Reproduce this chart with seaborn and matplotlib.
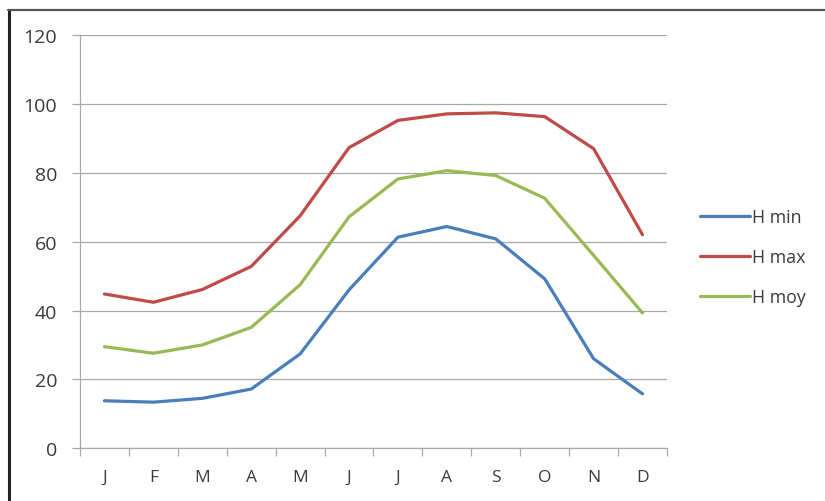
import numpy as np
import pandas as pd
import matplotlib
matplotlib.use("Agg")
import matplotlib.pyplot as plt
from matplotlib.lines import Line2D
import seaborn as sns

# Monthly values
months = ["J", "F", "M", "A", "M", "J", "J", "A", "S", "O", "N", "D"]
h_min = [13.8, 13.4, 14.5, 17.2, 27.4, 46.0, 61.3, 64.4, 60.8, 49.2, 26.0, 15.8]
h_max = [44.8, 42.4, 46.1, 52.8, 67.5, 87.3, 95.2, 97.1, 97.4, 96.3, 87.0, 62.0]
h_moy = [29.5, 27.6, 30.0, 35.1, 47.5, 67.2, 78.2, 80.6, 79.2, 72.6, 56.0, 39.3]
series_names = ["H min", "H max", "H moy"]
series_colors = {"H min": "#4A7EBB", "H max": "#BE4B48", "H moy": "#98B954"}
y_ticks = [0, 20, 40, 60, 80, 100, 120]

pos = np.arange(len(months))
df = pd.concat(
    [pd.DataFrame({"pos": pos, "value": vals, "serie": name})
     for name, vals in zip(series_names, [h_min, h_max, h_moy])],
    ignore_index=True,
)

sns.set_theme(style="white")
plt.rcParams["font.family"] = ["Open Sans", "DejaVu Sans"]

fig = plt.figure(figsize=(8.25, 5.02), dpi=100)
fig.patch.set_facecolor("white")
ax = fig.add_axes([80 / 825, 1 - 449.3 / 502, (667 - 80) / 825, (449.3 - 36) / 502])

sns.lineplot(data=df, x="pos", y="value", hue="serie", hue_order=series_names,
             palette=series_colors, linewidth=2.3, sort=False, ax=ax, legend=False)

grid_c = "#a8a8a8"
text_c = "#3a3a3a"
ax.set_xlim(-0.5, len(months) - 0.5)
ax.set_ylim(0, 120)
ax.set_yticks(y_ticks)
ax.set_yticklabels([str(t) for t in y_ticks])
ax.set_xticks(pos)
ax.set_xticklabels(months)
ax.set_xticks(np.arange(-0.5, len(months)), minor=True)
ax.set_xlabel("")
ax.set_ylabel("")

ax.yaxis.grid(True, color=grid_c, linewidth=0.9)
ax.set_axisbelow(True)
for side in ["top", "right"]:
    ax.spines[side].set_visible(False)
for side in ["left", "bottom"]:
    ax.spines[side].set_color(grid_c)
    ax.spines[side].set_linewidth(0.9)

ax.tick_params(axis="y", which="major", left=True, length=6, width=0.9, color=grid_c,
               pad=10.5, labelsize=14, labelcolor=text_c)
ax.tick_params(axis="x", which="major", bottom=False, length=0, pad=15,
               labelsize=12.5, labelcolor=text_c)
ax.tick_params(axis="x", which="minor", bottom=True, length=6, width=0.9, color=grid_c)

handles = [Line2D([0], [0], color=series_colors[n], linewidth=2.3) for n in series_names]
fig.legend(handles, series_names, loc="center left",
           bbox_to_anchor=(700 / 825, 1 - 258 / 502), frameon=False,
           fontsize=12.8, handlelength=2.8, handletextpad=0.15, labelspacing=1.25,
           borderpad=0, borderaxespad=0, labelcolor=text_c)

# Outer frame: dark rule on the left and along the top
fig.add_artist(Line2D([8.5 / 825, 8.5 / 825], [0, 1 - 10.5 / 502],
                      transform=fig.transFigure, color="#222222", linewidth=2.2))
fig.add_artist(Line2D([8 / 825, 1], [1 - 10.5 / 502, 1 - 10.5 / 502],
                      transform=fig.transFigure, color="#555555", linewidth=1.6))

fig.savefig("out.png", dpi=100, facecolor="white")
